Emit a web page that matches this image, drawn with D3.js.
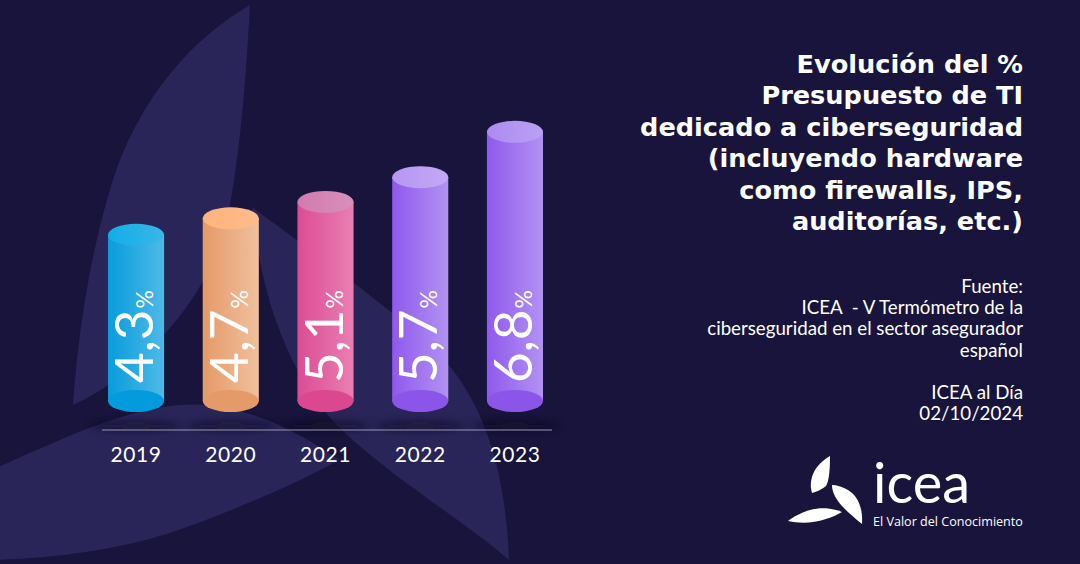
<!DOCTYPE html>
<html><head><meta charset="utf-8">
<script src="https://cdn.jsdelivr.net/npm/d3@7"></script>
<style>html,body{margin:0;padding:0;background:#17133a;overflow:hidden} svg{display:block}</style>
</head><body>
<svg id="chart" width="1080" height="564"></svg>
<script>
// ---- data ----
const years = ["2019", "2020", "2021", "2022", "2023"];
const values = [4.3, 4.7, 5.1, 5.7, 6.8];
const valueLabels = ["4,3", "4,7", "5,1", "5,7", "6,8"];
const titleLines = ["Evolución del %", "Presupuesto de TI", "dedicado a ciberseguridad", "(incluyendo hardware", "como firewalls, IPS,", "auditorías, etc.)"];
const sourceLines = ["Fuente:", "ICEA  - V Termómetro de la", "ciberseguridad en el sector asegurador", "español", "", "ICEA al Día", "02/10/2024"];

// ---- styles ----
const palette = [
  {left: "#079cdc", right: "#4ebae7", topL: "#12ade6", topR: "#3ab6e8", bottom: "#039bdc"},
  {left: "#e59a68", right: "#f0c09e", topL: "#ffb47c", topR: "#fdbb8c", bottom: "#e59a6a"},
  {left: "#dc4c94", right: "#e97fb2", topL: "#d27aae", topR: "#d98fba", bottom: "#dc4890"},
  {left: "#8f59ec", right: "#b292f3", topL: "#b696f2", topR: "#c4a8f5", bottom: "#8c55ea"},
  {left: "#8f59ec", right: "#b292f3", topL: "#ac8bf1", topR: "#bba0f4", bottom: "#8c55ea"}
];
const BG = "#18143b", LEAF = "#2a2558";
const FONT = "Lato, 'Noto Sans', sans-serif";

const svg = d3.select("#chart");
const defs = svg.append("defs");

svg.append("rect").attr("width", 1080).attr("height", 564).attr("fill", BG);

// background leaves (decoration)
const bgLeaves = [
  "M250,5 C246,80 240,150 230,205 C218,275 180,320 140,360 C118,380 95,395 73,405 C78,330 92,240 118,165 C145,95 190,40 250,5 Z",
  "M252,207 C300,243 380,300 430,345 C480,392 505,460 509,560 C470,525 380,470 335,423 C295,380 262,310 252,207 Z",
  "M339,460 C300,432 240,400 180,405 C120,410 60,440 -20,475 L-20,560 C40,560 110,552 170,533 C230,512 290,487 339,460 Z"
];
svg.append("g").selectAll("path").data(bgLeaves).join("path")
  .attr("d", d => d).attr("fill", LEAF);

// ---- scales ----
const x = d3.scaleBand().domain(years).range([108, 543]).paddingInner(0.408).paddingOuter(0);
const y = d3.scaleLinear().domain([0, 7]).range([412, 412 - 7 * 41.2]);
const bw = x.bandwidth();
const rx = bw / 2, ryTop = 11, ryBot = 11;
const baseY = y(0) - ryBot;

// gradients
palette.forEach((p, i) => {
  const g = defs.append("linearGradient").attr("id", "body" + i).attr("x1", 0).attr("x2", 1).attr("y1", 0).attr("y2", 0);
  g.append("stop").attr("offset", "0%").attr("stop-color", p.left);
  g.append("stop").attr("offset", "100%").attr("stop-color", p.right);
  const t = defs.append("linearGradient").attr("id", "top" + i).attr("x1", 0).attr("x2", 1).attr("y1", 0).attr("y2", 0);
  t.append("stop").attr("offset", "0%").attr("stop-color", p.topL);
  t.append("stop").attr("offset", "100%").attr("stop-color", p.topR);
});
const blur = defs.append("filter").attr("id", "shadow").attr("x", "-50%").attr("y", "-200%").attr("width", "200%").attr("height", "500%");
blur.append("feGaussianBlur").attr("stdDeviation", 4);

// shadows under bars
svg.append("g").selectAll("ellipse").data(years).join("ellipse")
  .attr("cx", d => x(d) + bw / 2).attr("cy", 426).attr("rx", bw * 0.8).attr("ry", 4)
  .attr("fill", "#0b0820").attr("opacity", 0.7).attr("filter", "url(#shadow)");

// axis line
svg.append("line").attr("x1", x.range()[0] - 6).attr("x2", x.range()[1] + 9)
  .attr("y1", 430).attr("y2", 430).attr("stroke", "#9b97b3").attr("stroke-width", 1);

// bars (cylinders)
const bars = svg.append("g").selectAll("g").data(values).join("g");
bars.append("rect")
  .attr("x", (d, i) => x(years[i])).attr("width", bw)
  .attr("y", d => y(d)).attr("height", d => baseY - y(d))
  .attr("fill", (d, i) => `url(#body${i})`);
bars.append("ellipse")
  .attr("cx", (d, i) => x(years[i]) + rx).attr("cy", baseY).attr("rx", rx).attr("ry", ryBot)
  .attr("fill", (d, i) => palette[i].bottom);
bars.append("ellipse")
  .attr("cx", (d, i) => x(years[i]) + rx).attr("cy", d => y(d)).attr("rx", rx).attr("ry", ryTop)
  .attr("fill", (d, i) => `url(#top${i})`);

// value labels (rotated)
const lbl = bars.append("text")
  .attr("transform", (d, i) => `translate(${x(years[i]) + rx + 17},383) rotate(-90)`)
  .attr("fill", "#fff").attr("font-family", FONT).attr("font-weight", 400)
  .attr("font-size", 53);
lbl.append("tspan").text((d, i) => valueLabels[i]);
lbl.append("tspan").attr("font-size", 23).attr("dx", 1).text("%");

// x axis labels
const xAxis = d3.axisBottom(x).tickSize(0).tickPadding(0);
const ax = svg.append("g").attr("transform", "translate(0,447)").call(xAxis);
ax.select(".domain").remove();
ax.selectAll("text").attr("fill", "#fff").attr("font-family", FONT).attr("font-size", 21)
  .attr("letter-spacing", 0.6).attr("dy", "0.71em");

// helper to fit text width
function fitWidth(sel, target) {
  let maxW = 0;
  sel.each(function () { maxW = Math.max(maxW, this.getComputedTextLength()); });
  const fs = parseFloat(sel.attr("font-size"));
  sel.attr("font-size", fs * target / maxW);
}

// title
const title = svg.append("g").selectAll("text").data(titleLines).join("text")
  .attr("x", 1023).attr("y", (d, i) => 73 + i * 31.4)
  .attr("text-anchor", "end").attr("fill", "#fff")
  .attr("font-family", "'DejaVu Sans', sans-serif").attr("font-weight", 700).attr("font-size", 24)
  .text(d => d);
fitWidth(title, 383);

// source
const src = svg.append("g").selectAll("text").data(sourceLines).join("text")
  .attr("x", 1023).attr("y", (d, i) => 293 + i * 21.2)
  .attr("text-anchor", "end").attr("fill", "#fff")
  .attr("font-family", FONT).attr("font-weight", 400).attr("font-size", 17)
  .attr("xml:space", "preserve").style("white-space", "pre")
  .text(d => d);
fitWidth(src, 316);

// logo
const logoLeaves = [
  "M830,456 C830,470 829,481 826,486 Q820,491 812,493 C808,480 814,465 830,456 Z",
  "M832,485 C832,497 842,508 862,524 C863,508 858,496 848,490 C843,487 837,485 832,485 Z",
  "M788,521 C800,512 820,503 842,512 C830,519 810,526 788,521 Z"
];
svg.append("g").selectAll("path").data(logoLeaves).join("path").attr("d", d => d).attr("fill", "#fff");
const icea = svg.append("text").attr("x", 873).attr("y", 503).attr("fill", "#fff")
  .attr("font-family", FONT).attr("font-weight", 400).attr("font-size", 44).text("icea");
fitWidth(icea, 97);
const tag = svg.append("text").attr("x", 873).attr("y", 526).attr("fill", "#fff")
  .attr("font-family", "'Open Sans', sans-serif").attr("font-size", 12).text("El Valor del Conocimiento");
fitWidth(tag, 150);
</script>
</body></html>
